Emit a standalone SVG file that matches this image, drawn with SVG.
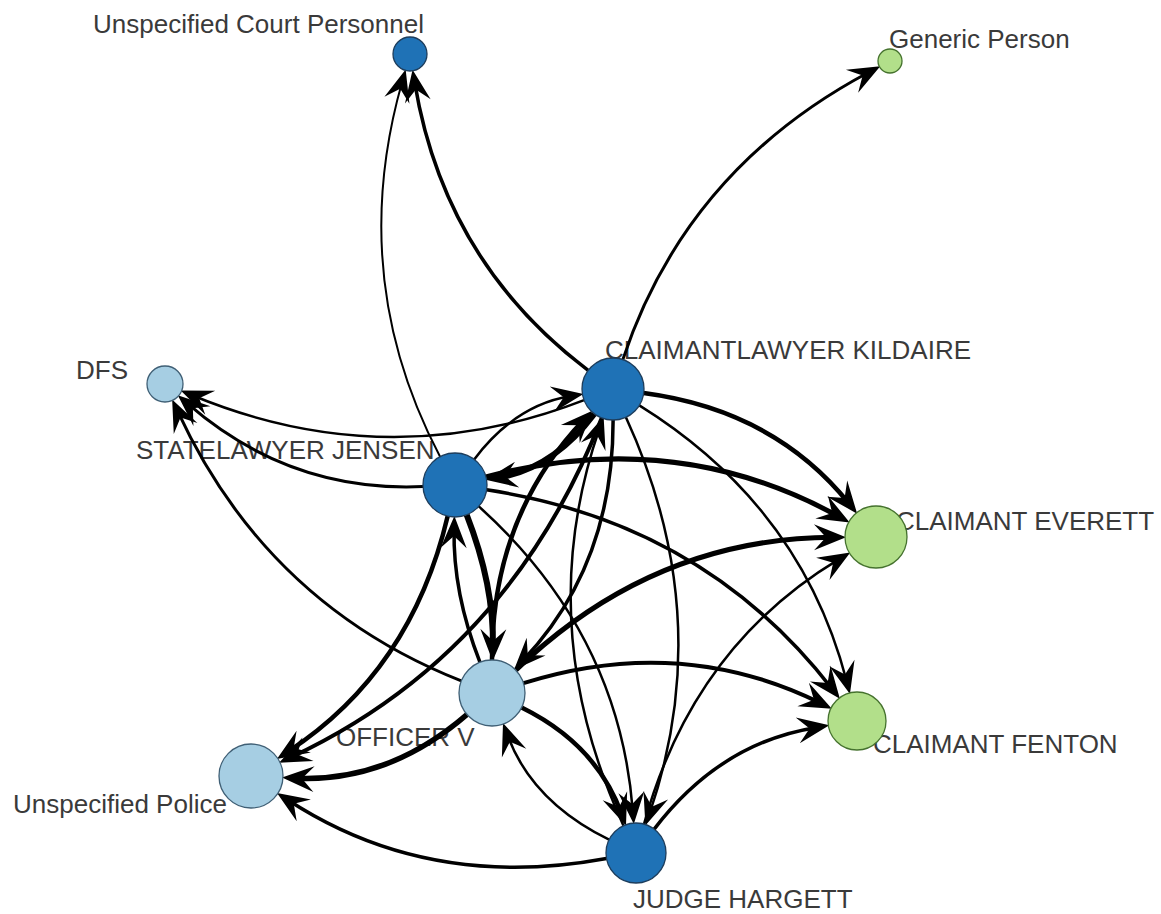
<svg xmlns="http://www.w3.org/2000/svg" width="1161" height="914" viewBox="0 0 1161 914">
<style>
.lbl{font-family:"Liberation Sans",Arial,sans-serif;font-size:26px;fill:#3a3a3a}
.e{fill:none;stroke:#000;stroke-linecap:butt;marker-end:url(#ah)}
.db{fill:#1f72b6;stroke:#1d3d5c;stroke-width:1.3}
.lb{fill:#a6cee3;stroke:#3f5f75;stroke-width:1.3}
.gr{fill:#b2df8a;stroke:#45722e;stroke-width:1.3}
</style>
<defs>
<marker id="ah" markerUnits="userSpaceOnUse" markerWidth="50" markerHeight="50" viewBox="-25 -25 50 50" refX="0" refY="0" orient="auto" overflow="visible">
<path d="M13,0 L-19,-13 L-7,0 L-19,13 Z" fill="#000"/>
</marker>
</defs>
<rect width="1161" height="914" fill="#fff"/>
<g id="labels">
<text class="lbl" x="93" y="33">Unspecified Court Personnel</text>
<text class="lbl" x="889" y="48">Generic Person</text>
<text class="lbl" x="605" y="359">CLAIMANTLAWYER KILDAIRE</text>
<text class="lbl" x="76" y="379">DFS</text>
<text class="lbl" x="136" y="459">STATELAWYER JENSEN</text>
<text class="lbl" x="896" y="530">CLAIMANT EVERETT</text>
<text class="lbl" x="336" y="746">OFFICER V</text>
<text class="lbl" x="873" y="753">CLAIMANT FENTON</text>
<text class="lbl" x="13" y="813">Unspecified Police</text>
<text class="lbl" x="633" y="908">JUDGE HARGETT</text>
</g>
<g id="edges">
<path class="e" stroke-width="3.5" d="M588.2,370.3 Q444.5,262.1 414.7,82.6"/>
<path class="e" stroke-width="3" d="M622.8,359.6 Q686,169.6 868.8,72.3"/>
<path class="e" stroke-width="2.5" d="M584.1,400.2 Q388,476.1 192.7,395.5"/>
<path class="e" stroke-width="3" d="M423,486.5 Q289.8,492.5 187.6,403.7"/>
<path class="e" stroke-width="3" d="M461.3,680.9 Q266.7,603.9 177.6,411.2"/>
<path class="e" stroke-width="2" d="M440.1,456.7 Q346.3,278.5 402.1,81.9"/>
<path class="e" stroke-width="6" d="M594.4,413.8 Q553.2,468.6 498.4,477.7"/>
<path class="e" stroke-width="2.5" d="M474.2,459.4 Q514.8,405.4 570.6,396.1"/>
<path class="e" stroke-width="4.5" d="M643.7,393.1 Q774.1,410.4 849,503.5"/>
<path class="e" stroke-width="5" d="M485.9,476.8 Q675.9,426.8 838.3,516.3"/>
<path class="e" stroke-width="5" d="M515.8,670.1 Q652.8,538.2 833,537.2"/>
<path class="e" stroke-width="2.5" d="M644,824.1 Q692.8,647 839.1,559.1"/>
<path class="e" stroke-width="2.5" d="M639.3,405.4 Q801.4,506.2 846.7,681.3"/>
<path class="e" stroke-width="3.5" d="M486.6,489.8 Q703.2,522.6 831.9,688.6"/>
<path class="e" stroke-width="4" d="M523.5,683.1 Q680.1,634 820.2,702.9"/>
<path class="e" stroke-width="3.5" d="M654.2,829.1 Q720.1,742.8 816.5,727.4"/>
<path class="e" stroke-width="3.5" d="M613.1,420 Q613.3,565.2 523,660.4"/>
<path class="e" stroke-width="4.5" d="M492,660 Q491.7,516.8 583.4,420.2"/>
<path class="e" stroke-width="2.5" d="M625.9,417.2 Q717.3,616.4 649.6,813.3"/>
<path class="e" stroke-width="2.5" d="M623.5,825.7 Q531.7,625.6 599.4,428.7"/>
<path class="e" stroke-width="6" d="M466.7,514.8 Q494.3,585.3 492.9,648"/>
<path class="e" stroke-width="3.5" d="M480,662.3 Q452.7,592.7 454.1,529"/>
<path class="e" stroke-width="2.5" d="M478.8,506.4 Q619.1,632.8 632.8,811.1"/>
<path class="e" stroke-width="4.5" d="M521.6,707.6 Q596,744.2 621.5,813.6"/>
<path class="e" stroke-width="2.5" d="M609.1,839.7 Q532,801.8 507.5,735.3"/>
<path class="e" stroke-width="4.5" d="M447.7,516.1 Q411.2,671.3 287.8,751.9"/>
<path class="e" stroke-width="4" d="M601.7,417.9 Q509.4,654.9 290.8,757.3"/>
<path class="e" stroke-width="5.5" d="M467,714.5 Q388.1,782.7 295,778.2"/>
<path class="e" stroke-width="3.5" d="M606.5,858.5 Q428.1,891.5 287.9,800"/>
</g>
<g id="node-ucp"><circle class="db" cx="410" cy="54" r="17"/></g>
<g id="node-gp"><circle class="gr" cx="890" cy="61" r="12"/></g>
<g id="node-kildaire"><circle class="db" cx="613" cy="389" r="31"/></g>
<g id="node-dfs"><circle class="lb" cx="165" cy="384" r="18"/></g>
<g id="node-jensen"><circle class="db" cx="455" cy="485" r="32"/></g>
<g id="node-everett"><circle class="gr" cx="876" cy="537" r="31"/></g>
<g id="node-officer"><circle class="lb" cx="492" cy="693" r="33"/></g>
<g id="node-fenton"><circle class="gr" cx="857" cy="721" r="29"/></g>
<g id="node-police"><circle class="lb" cx="251" cy="776" r="32"/></g>
<g id="node-hargett"><circle class="db" cx="636" cy="853" r="30"/></g>
</svg>
